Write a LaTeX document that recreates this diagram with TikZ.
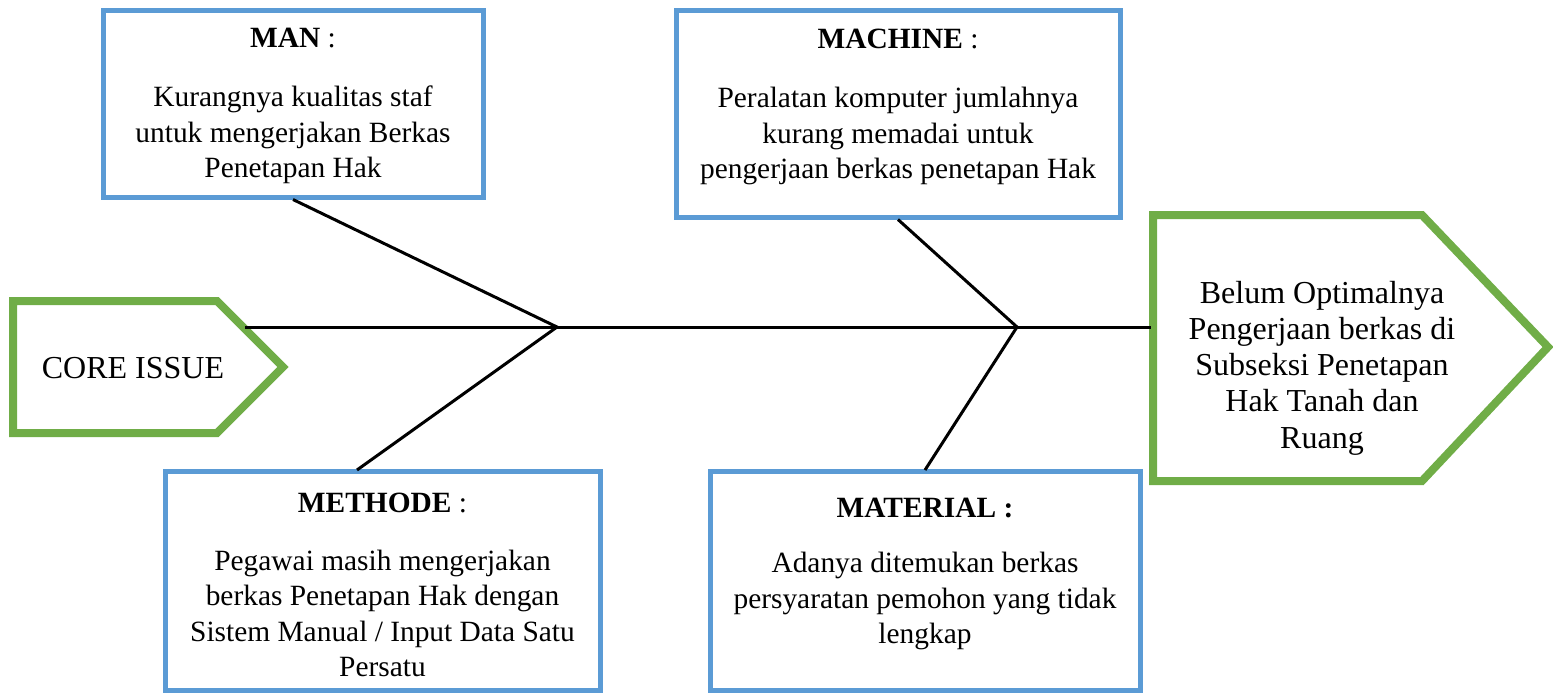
\documentclass[tikz,border=0pt]{standalone}
\usepackage{fontspec}
\setmainfont{Liberation Serif}
\definecolor{boxblue}{HTML}{5B9BD5}
\definecolor{arrgreen}{HTML}{70AD47}
\tikzset{
  causebox/.style={draw=boxblue, line width=2.5pt, rectangle, inner sep=0pt},
  boxtext/.style={align=center, inner sep=0pt, font=\fontsize{14.7}{17.8}\selectfont},
  pentxt/.style={align=center, inner sep=0pt, font=\fontsize{16}{18.1}\selectfont},
  pent/.style={draw=arrgreen, line width=4pt, line join=miter},
  bone/.style={draw=black, line width=1.5pt},
}
\begin{document}
\begin{tikzpicture}[x=0.5pt, y=-0.5pt]
\useasboundingbox (0,0) rectangle (1553,693);
% cause boxes
\node[causebox, minimum width=190pt, minimum height=93.5pt] (man) at (293,103.5) {};
\node[causebox, minimum width=222pt, minimum height=103.5pt] (machine) at (898,113.5) {};
\node[causebox, minimum width=217.5pt, minimum height=109.5pt] (methode) at (382.5,580.5) {};
\node[causebox, minimum width=215pt, minimum height=109.5pt] (material) at (925,580.5) {};
% texts
\node[boxtext] (manT) at (293,106) {\textbf{MAN} :\\[12pt]Kurangnya kualitas staf\\untuk mengerjakan Berkas\\Penetapan Hak};
\node[boxtext] (machineT) at (898,107) {\textbf{MACHINE} :\\[12pt]Peralatan komputer jumlahnya\\kurang memadai untuk\\pengerjaan berkas penetapan Hak};
\node[boxtext] (methodeT) at (382.5,585) {\textbf{METHODE} :\\[11pt]Pegawai masih mengerjakan\\berkas Penetapan Hak dengan\\Sistem Manual / Input Data Satu\\Persatu};
\node[boxtext] (materialT) at (925,574) {\textbf{MATERIAL :}\\[10pt]Adanya ditemukan berkas\\persyaratan pemohon yang tidak\\lengkap};
% pentagons
\draw[pent] (13,301) -- (217,301) -- (283,367) -- (217,433) -- (13,433) -- cycle;
\node[pentxt] (core) at (133,368) {CORE ISSUE};
\draw[pent] (1153,215) -- (1422,215) -- (1548,347) -- (1422,481) -- (1153,481) -- cycle;
\node[pentxt] (effect) at (1322,368) {Belum Optimalnya\\Pengerjaan berkas di\\Subseksi Penetapan\\Hak Tanah dan\\Ruang};
% spine and bones
\coordinate (s0) at (245,327);
\coordinate (j1) at (557,327);
\coordinate (j2) at (1017,327);
\coordinate (s1) at (1151,327);
\coordinate (mb) at (357,470);
\coordinate (tb) at (925,470);
\draw[bone] (s0) -- (j1) -- (j2) -- (s1);
\draw[bone] (man.south) -- (j1) -- (mb);
\draw[bone] (machine.south) -- (j2) -- (tb);
\end{tikzpicture}
\end{document}
